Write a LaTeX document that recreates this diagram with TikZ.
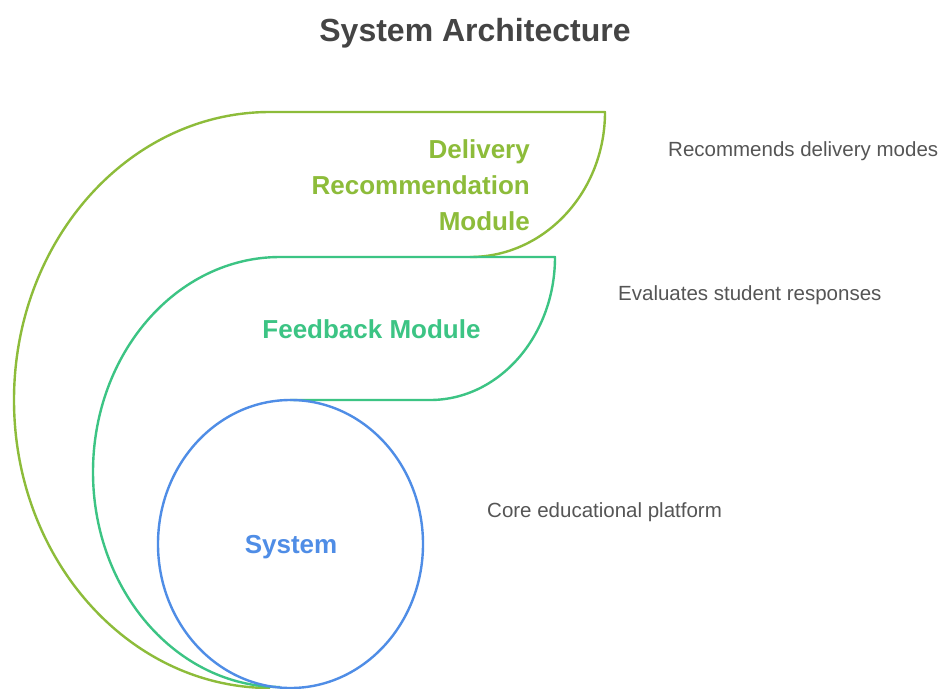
\documentclass[tikz,border=0pt]{standalone}
\usepackage{fontspec}
\setmainfont{Liberation Sans}
\definecolor{delivc}{RGB}{141,188,58}
\definecolor{feedc}{RGB}{60,196,132}
\definecolor{sysc}{RGB}{79,141,230}
\definecolor{titlec}{RGB}{68,68,68}
\definecolor{descc}{RGB}{85,85,85}
\tikzset{
  outline/.style={line width=2.4pt, line join=round},
  modlabel/.style={font=\fontsize{26}{36}\selectfont\bfseries, inner sep=0pt},
  desc/.style={font=\fontsize{20.5}{24}\selectfont, text=descc, inner sep=0pt, anchor=base west},
}
\begin{document}
\begin{tikzpicture}[x=1pt, y=-1pt]
  \path[use as bounding box, fill=white] (0,0) rectangle (942,688);

  % title
  \node[font=\fontsize{32}{38}\selectfont\bfseries, text=titlec, inner sep=0pt, anchor=base]
    (title) at (475,41) {System Architecture};

  % outer layer: delivery recommendation
  \draw[outline, delivc] (270,688) arc[start angle=90, end angle=270, x radius=256, y radius=288]
    -- (605,112) arc[start angle=0, end angle=90, x radius=135, y radius=145];

  % middle layer: feedback
  \draw[outline, feedc] (280,687) arc[start angle=90, end angle=270, x radius=187, y radius=215]
    -- (555,257) arc[start angle=0, end angle=90, x radius=125, y radius=143] -- (290,400);

  % core: system
  \draw[outline, sysc] (290.5,544) ellipse[x radius=132.5, y radius=144];

  % layer labels
  \node[modlabel, text=delivc, anchor=base east] (d1) at (530,158) {Delivery};
  \node[modlabel, text=delivc, anchor=base east] (d2) at (530,194) {Recommendation};
  \node[modlabel, text=delivc, anchor=base east] (d3) at (530,230) {Module};
  \node[modlabel, text=feedc, anchor=base] (fb) at (371.5,338) {Feedback Module};
  \node[modlabel, text=sysc, anchor=base] (sys) at (291,553) {System};

  % descriptions
  \node[desc] (r1) at (668,156) {Recommends delivery modes};
  \node[desc] (r2) at (618,300) {Evaluates student responses};
  \node[desc] (r3) at (487,517) {Core educational platform};
\end{tikzpicture}
\end{document}
